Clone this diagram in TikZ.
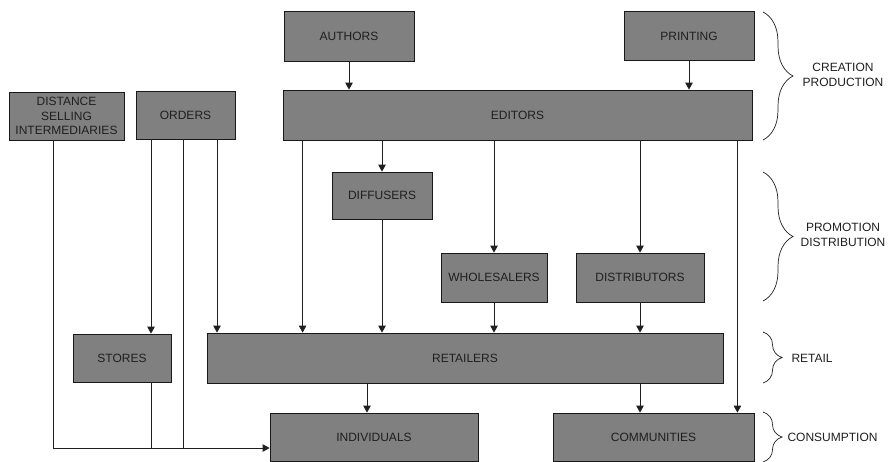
\documentclass[tikz,border=0pt]{standalone}
\usepackage{fontspec}
\setmainfont{Liberation Sans}
\usetikzlibrary{arrows.meta,decorations.pathreplacing}

\begin{document}
\begin{tikzpicture}[x=1pt,y=-1pt,
  box/.style 2 args={draw=black!90,fill=black!50,line width=0.8pt,inner sep=0pt,
    minimum width=#1pt,minimum height=#2pt,text=black!88,align=center,
    font=\fontsize{12}{14.5}\selectfont},
  arr/.style={-{Triangle[length=7pt,width=7.5pt]},line width=0.8pt,black!88},
  ln/.style={line width=0.8pt,black!88},
  brc/.style={decorate,decoration={brace,amplitude=#1},line width=0.7pt,black!88},
  lbl/.style={text=black!88,align=center,font=\fontsize{12}{14.5}\selectfont}]
  \useasboundingbox (0,0) rectangle (890,461);
  \clip (0,0) rectangle (890,461);

  \node[box={130}{50}] (authors) at (349,36) {AUTHORS};
  \node[box={130}{49}] (printing) at (689,36) {PRINTING};
  \node[box={469}{50}] (editors) at (517.5,115) {EDITORS};
  \node[box={115}{48}] (dsi) at (66.5,116) {DISTANCE\\SELLING\\INTERMEDIARIES};
  \node[box={99}{48}] (orders) at (185.5,115) {ORDERS};
  \node[box={100}{47}] (diffusers) at (382,195.5) {DIFFUSERS};
  \node[box={106}{49}] (wholesalers) at (494,277.5) {WHOLESALERS};
  \node[box={128}{49}] (distributors) at (640,277.5) {DISTRIBUTORS};
  \node[box={98}{48}] (stores) at (122,358) {STORES};
  \node[box={516}{50}] (retailers) at (465,358) {RETAILERS};
  \node[box={208}{48}] (individuals) at (374,437) {INDIVIDUALS};
  \node[box={201}{48}] (communities) at (653.5,437) {COMMUNITIES};

  \coordinate (bus) at ([yshift=-11pt]individuals.west);
  \coordinate (dc) at ([xshift=-13.5pt]dsi.south);
  \coordinate (oc1) at ([xshift=-34.5pt]orders.south);
  \coordinate (oc2) at ([xshift=-2.5pt]orders.south);
  \coordinate (oc3) at ([xshift=31.5pt]orders.south);
  \coordinate (ec1) at ([xshift=20pt]editors.south west);
  \coordinate (ec2) at ([xshift=-15pt]editors.south east);
  \coordinate (rc1) at ([xshift=-98pt]retailers.south);

  \draw[arr] (authors) -- (authors |- editors.north);
  \draw[arr] (printing) -- (printing |- editors.north);
  \draw[arr] (editors.south -| diffusers) -- (diffusers);
  \draw[arr] (editors.south -| wholesalers) -- (wholesalers);
  \draw[arr] (editors.south -| distributors) -- (distributors);
  \draw[arr] (ec1) -- (ec1 |- retailers.north);
  \draw[arr] (ec2) -- (ec2 |- communities.north);
  \draw[arr] (diffusers) -- (diffusers |- retailers.north);
  \draw[arr] (wholesalers) -- (wholesalers |- retailers.north);
  \draw[arr] (distributors) -- (distributors |- retailers.north);
  \draw[arr] (oc1) -- (oc1 |- stores.north);
  \draw[arr] (oc3) -- (oc3 |- retailers.north);
  \draw[ln] (oc2) -- (oc2 |- bus);
  \draw[ln] (oc1 |- stores.south) -- (oc1 |- bus);
  \draw[arr] (dc) |- (bus);
  \draw[arr] (rc1) -- (rc1 |- individuals.north);
  \draw[arr] (retailers.south -| distributors) -- (communities.north -| distributors);

  \draw[brc=30pt] (763,12) -- (763,140);
  \draw[brc=30pt] (763,172) -- (763,301);
  \draw[brc=19pt] (763,332) -- (763,383);
  \draw[brc=19pt] (763,412) -- (763,462);
  \node[lbl] (creation) at (843,75) {CREATION\\PRODUCTION};
  \node[lbl] (promotion) at (843,235) {PROMOTION\\DISTRIBUTION};
  \node[lbl,anchor=west] (retail) at (788,358) {RETAIL};
  \node[lbl,anchor=west] (consumption) at (784,437) {CONSUMPTION};
\end{tikzpicture}
\end{document}
